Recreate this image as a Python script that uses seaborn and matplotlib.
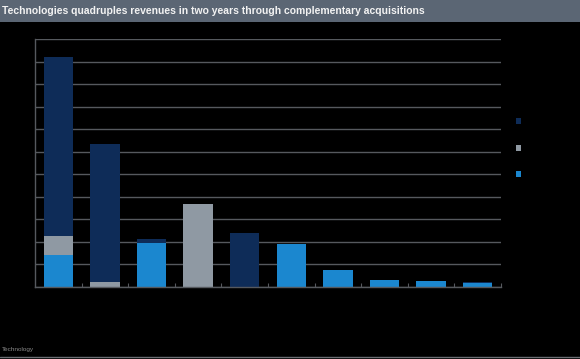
import matplotlib
matplotlib.use("Agg")
import matplotlib.pyplot as plt
import seaborn as sns
import pandas as pd
import numpy as np
from matplotlib.patches import Patch, Rectangle
from matplotlib.lines import Line2D

categories = ["C1", "C2", "C3", "C4", "C5", "C6", "C7", "C8", "C9", "C10"]
blue_vals = [1.42, 0.0, 1.94, 0.0, 0.0, 1.89, 0.75, 0.31, 0.28, 0.17]
gray_vals = [0.83, 0.24, 0.0, 3.67, 0.0, 0.0, 0.0, 0.0, 0.0, 0.0]
navy_vals = [7.94, 6.09, 0.19, 0.0, 2.38, 0.0, 0.0, 0.0, 0.0, 0.07]

title = "Technologies quadruples revenues in two years through complementary acquisitions"
source = "Technology"

NAVY = "#0e2c58"
GRAY = "#8f99a3"
BLUE = "#1b87cf"
GRID = "#56595e"

sns.set_theme(style="dark")
plt.rcParams["font.family"] = ["Liberation Sans", "DejaVu Sans"]

fig = plt.figure(figsize=(5.8, 3.59), dpi=100, facecolor="black")
ax = fig.add_axes([35/580, 1-287/359, (501-35)/580, (287-39)/359])
ax.set_facecolor("black")

df = pd.DataFrame({"cat": categories, "blue": blue_vals, "gray": gray_vals, "navy": navy_vals})
df["b2"] = df["blue"] + df["gray"]

sns.barplot(data=df, x="cat", y="blue", color=BLUE, width=0.63, ax=ax,
            saturation=1, linewidth=0, order=categories)
sns.barplot(data=df, x="cat", y="gray", bottom=df["blue"].values, color=GRAY, width=0.63,
            ax=ax, saturation=1, linewidth=0, order=categories)
sns.barplot(data=df, x="cat", y="navy", bottom=df["b2"].values, color=NAVY, width=0.63,
            ax=ax, saturation=1, linewidth=0, order=categories)

ax.set_xlim(-0.5, 9.5)
ax.set_ylim(0, 11)
ax.set_yticks(np.arange(0, 12, 1))
ax.set_yticklabels([])
ax.yaxis.grid(True, color=GRID, linewidth=1)
ax.xaxis.grid(False)
ax.set_axisbelow(True)
ax.set_xlabel("")
ax.set_ylabel("")
ax.set_xticks([])
ax.set_xticks(np.arange(0.5, 10, 1), minor=True)
ax.tick_params(axis="x", which="minor", direction="in", length=3, color=GRID, width=0.8,
               bottom=True, labelbottom=False)
ax.tick_params(axis="y", length=0)
for s in ["right", "top"]:
    ax.spines[s].set_visible(False)
for s in ["left", "bottom"]:
    ax.spines[s].set_visible(True)
    ax.spines[s].set_color(GRID)
    ax.spines[s].set_linewidth(1)

# header band
fig.patches.append(Rectangle((0, 1-22/359), 1, 22/359, transform=fig.transFigure,
                             facecolor="#5b6674", edgecolor="none", zorder=0))
fig.text(2/580, 1-11.5/359, title, color="#f2f2f2", fontsize=7.5, fontweight="bold",
         va="center", ha="left")

# footer
fig.text(2/580, 1-349/359, source, color="#8a8a8a", fontsize=4.6, va="center", ha="left")
fig.lines.append(Line2D([0, 1], [1-357/359, 1-357/359], transform=fig.transFigure,
                        color="#6a6e73", linewidth=1))

handles = [Patch(facecolor=NAVY, edgecolor="none"),
           Patch(facecolor=GRAY, edgecolor="none"),
           Patch(facecolor=BLUE, edgecolor="none")]
fig.legend(handles, ["", "", ""], loc="center", bbox_to_anchor=(520/580, 1-148.5/359),
           frameon=False, handlelength=0.45, handleheight=0.45, fontsize=8,
           labelspacing=1.5, handletextpad=0.2)

fig.savefig("out.png", dpi=100, facecolor="black")
